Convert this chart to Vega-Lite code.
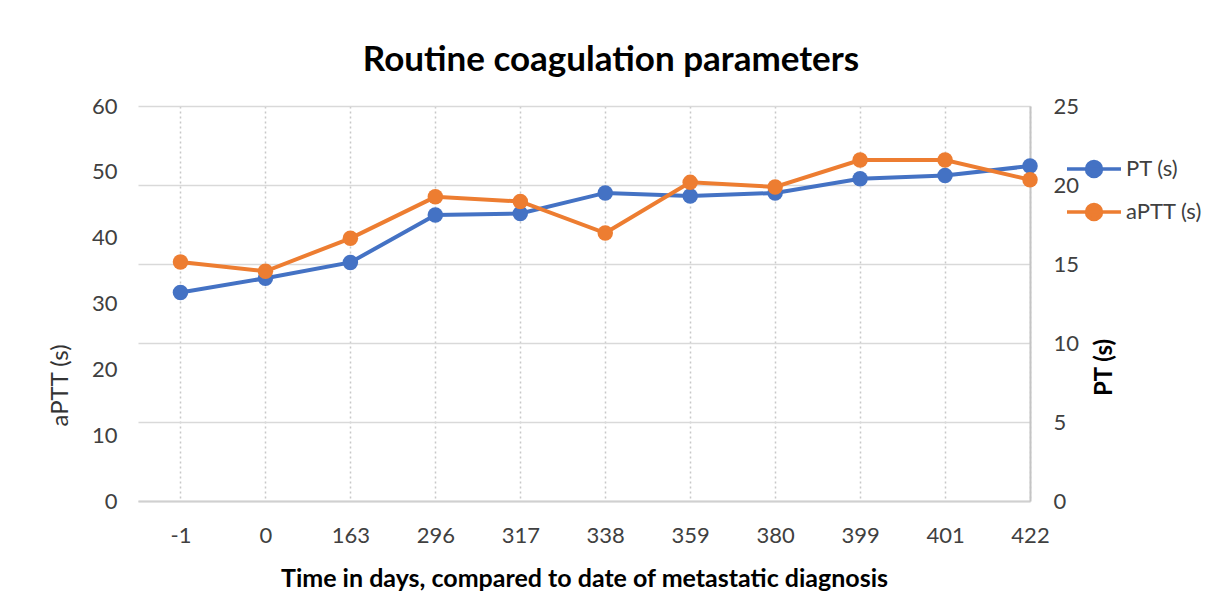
{
  "$schema": "https://vega.github.io/schema/vega-lite/v6.json",
  "width": 892,
  "height": 395,
  "autosize": {"type": "none"},
  "padding": {"left": 138, "top": 106, "right": 181, "bottom": 110},
  "background": "white",
  "config": {"view": {"stroke": null}, "font": "Lato"},
  "title": {
    "text": "Routine coagulation parameters",
    "font": "Lato",
    "fontSize": 35,
    "fontWeight": "bold",
    "color": "#000000",
    "anchor": "middle",
    "dx": 27,
    "offset": 17
  },
  "data": {
    "values": [
      {"day": "-1", "series": "PT (s)", "value": 13.2},
      {"day": "0", "series": "PT (s)", "value": 14.1},
      {"day": "163", "series": "PT (s)", "value": 15.1},
      {"day": "296", "series": "PT (s)", "value": 18.1},
      {"day": "317", "series": "PT (s)", "value": 18.2},
      {"day": "338", "series": "PT (s)", "value": 19.5},
      {"day": "359", "series": "PT (s)", "value": 19.3},
      {"day": "380", "series": "PT (s)", "value": 19.5},
      {"day": "399", "series": "PT (s)", "value": 20.4},
      {"day": "401", "series": "PT (s)", "value": 20.6},
      {"day": "422", "series": "PT (s)", "value": 21.2},
      {"day": "-1", "series": "aPTT (s)", "value": 36.3},
      {"day": "0", "series": "aPTT (s)", "value": 34.9},
      {"day": "163", "series": "aPTT (s)", "value": 39.9},
      {"day": "296", "series": "aPTT (s)", "value": 46.2},
      {"day": "317", "series": "aPTT (s)", "value": 45.5},
      {"day": "338", "series": "aPTT (s)", "value": 40.7},
      {"day": "359", "series": "aPTT (s)", "value": 48.4},
      {"day": "380", "series": "aPTT (s)", "value": 47.7},
      {"day": "399", "series": "aPTT (s)", "value": 51.8},
      {"day": "401", "series": "aPTT (s)", "value": 51.8},
      {"day": "422", "series": "aPTT (s)", "value": 48.8}
    ]
  },
  "encoding": {
    "x": {
      "field": "day",
      "type": "ordinal",
      "scale": {
        "type": "point",
        "domain": ["-1", "0", "163", "296", "317", "338", "359", "380", "399", "401", "422"],
        "padding": 0.25,
        "align": 1
      },
      "axis": {
        "title": "Time in days, compared to date of metastatic diagnosis",
        "titleFont": "Lato",
        "titleFontSize": 25,
        "titleFontWeight": "bold",
        "titleColor": "#000000",
        "titlePadding": 20,
        "labelAngle": 0,
        "labelPadding": 24,
        "labelFont": "Lato",
        "labelFontSize": 22,
        "labelColor": "#404040",
        "ticks": false,
        "domain": true,
        "domainColor": "#d0d0d0",
        "domainWidth": 2,
        "grid": true,
        "gridDash": [2, 3],
        "gridColor": "#c8c8c8",
        "gridWidth": 1.5
      }
    },
    "color": {
      "field": "series",
      "type": "nominal",
      "scale": {"domain": ["PT (s)", "aPTT (s)"], "range": ["#4472C4", "#ED7D31"]},
      "legend": {
        "title": null,
        "orient": "none",
        "legendX": 944,
        "legendY": 51,
        "symbolType": "M-2.7,0L2.7,0M0.75,0A0.75,0.75,0,1,1,-0.75,0A0.75,0.75,0,1,1,0.75,0Z",
        "symbolSize": 400,
        "symbolStrokeWidth": 3.5,
        "labelFont": "Lato",
        "labelFontSize": 22,
        "labelColor": "#404040",
        "labelOffset": 20,
        "rowPadding": 13,
        "padding": 0,
        "offset": 0,
        "encode": {
          "symbols": {
            "update": {
              "fill": {"scale": "color", "field": "value"},
              "stroke": {"scale": "color", "field": "value"},
              "opacity": {"value": 1}
            }
          }
        }
      }
    }
  },
  "layer": [
    {
      "transform": [{"filter": "datum.series === 'PT (s)'"}],
      "mark": {"type": "line", "strokeWidth": 4, "point": {"filled": true, "size": 240}},
      "encoding": {
        "y": {
          "field": "value",
          "type": "quantitative",
          "scale": {"domain": [0, 25]},
          "axis": {
            "orient": "right",
            "values": [0, 5, 10, 15, 20, 25],
            "grid": true,
            "gridColor": "#d9d9d9",
            "gridWidth": 1.5,
            "domain": true,
            "domainColor": "#c4c4c4",
            "domainWidth": 2,
            "ticks": false,
            "labelPadding": 23,
            "labelFont": "Lato",
            "labelFontSize": 22,
            "labelColor": "#404040",
            "title": "PT (s)",
            "titleFont": "Lato",
            "titleFontSize": 24,
            "titleFontWeight": "bold",
            "titleColor": "#000000",
            "titleAngle": 270,
            "titleBaseline": "top",
            "titleAlign": "center",
            "titleX": 62,
            "titleY": 261
          }
        }
      }
    },
    {
      "transform": [{"filter": "datum.series === 'aPTT (s)'"}],
      "mark": {"type": "line", "strokeWidth": 4, "point": {"filled": true, "size": 240}},
      "encoding": {
        "y": {
          "field": "value",
          "type": "quantitative",
          "scale": {"domain": [0, 60]},
          "axis": {
            "orient": "left",
            "values": [0, 10, 20, 30, 40, 50, 60],
            "grid": false,
            "domain": false,
            "ticks": false,
            "labelPadding": 21,
            "labelFont": "Lato",
            "labelFontSize": 22,
            "labelColor": "#404040",
            "title": "aPTT (s)",
            "titleFont": "Lato",
            "titleFontSize": 24,
            "titleFontWeight": "normal",
            "titleColor": "#333333",
            "titleAngle": 270,
            "titleBaseline": "bottom",
            "titleAlign": "center",
            "titleX": -66,
            "titleY": 279
          }
        }
      }
    }
  ],
  "resolve": {"scale": {"y": "independent"}}
}
